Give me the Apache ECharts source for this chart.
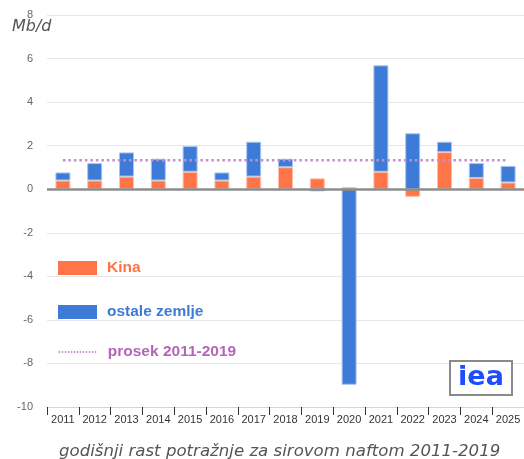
<!DOCTYPE html>
<html><head><meta charset="utf-8">
<script src="https://cdn.jsdelivr.net/npm/echarts@6/dist/echarts.min.js"></script>
<style>html,body{margin:0;padding:0;background:#fff}#c{width:524px;height:459px}</style>
</head><body><div id="c"></div>
<script>
var years = ['2011','2012','2013','2014','2015','2016','2017','2018','2019','2020','2021','2022','2023','2024','2025'];
var kina = [0.40, 0.40, 0.58, 0.40, 0.80, 0.40, 0.58, 1.01, 0.50, 0.10, 0.80, -0.35, 1.70, 0.52, 0.31];
var ostale = [0.37, 0.80, 1.11, 1.00, 1.18, 0.37, 1.60, 0.39, -0.10, -8.98, 4.89, 2.57, 0.48, 0.68, 0.76];
var prosekValue = 1.33;
var prosek = years.map(function(){ return prosekValue; });
var yTicks = {min: -10, max: 8, interval: 2};

var legendText = {fontFamily: 'Liberation Sans', fontWeight: 'bold', fontSize: 15.5, padding: [4,0,0,5]};
var chart = echarts.init(document.getElementById('c'), null, {renderer: 'canvas'});
chart.setOption({
  animation: false,
  grid: {left: 47, right: -2, top: 15, bottom: 52, containLabel: false},
  legend: [
    {
      orient: 'vertical', left: 53, top: 255, itemWidth: 39, itemHeight: 14, itemGap: 28,
      selectedMode: false, textStyle: legendText,
      data: [
        {name: 'Kina', icon: 'rect', itemStyle: {borderWidth: 0}, textStyle: {color: '#ff7347'}},
        {name: 'ostale zemlje', icon: 'rect', itemStyle: {borderWidth: 0}, textStyle: {color: '#3d7bd6'}}
      ]
    },
    {
      orient: 'vertical', left: 53, top: 339, itemWidth: 39, itemHeight: 14,
      selectedMode: false, textStyle: legendText,
      data: [
        {name: 'prosek 2011-2019', itemStyle: {opacity: 0}, lineStyle: {color: '#b46fc0', width: 1.5, type: [1.5, 1.5]}, textStyle: {color: '#b467b8'}}
      ]
    }
  ],
  xAxis: {
    type: 'category', data: years,
    axisLine: {onZero: false, lineStyle: {color: '#ccd6eb', width: 1}},
    axisTick: {show: true, alignWithLabel: false, length: 8, lineStyle: {color: '#333'}},
    axisLabel: {color: '#333', fontSize: 11, margin: 7, fontFamily: 'Liberation Sans', interval: 0},
    splitLine: {show: false}
  },
  yAxis: {
    type: 'value', min: yTicks.min, max: yTicks.max, interval: yTicks.interval,
    axisLine: {show: false}, axisTick: {show: false},
    axisLabel: {color: '#666', fontSize: 11, margin: 14, fontFamily: 'Liberation Sans'},
    splitLine: {lineStyle: {color: '#e6e6e6', width: 1}}
  },
  graphic: [
    {type: 'text', left: 12, top: 19, style: {text: 'Mb/d', font: 'italic 16px "DejaVu Sans"', fill: '#555'}},
    {type: 'text', left: 59, top: 443, style: {text: 'godišnji rast potražnje za sirovom naftom 2011-2019', font: 'italic 16.6px "DejaVu Sans"', fill: '#555'}},
    {type: 'rect', shape: {x: 450, y: 361, width: 62, height: 34}, style: {fill: '#fff', stroke: '#8a8a8a', lineWidth: 2}, z: 10},
    {type: 'text', x: 481, y: 378, style: {text: 'iea', font: 'bold 27px "DejaVu Sans"', fill: '#1d4dff', align: 'center', verticalAlign: 'middle'}, z: 11}
  ],
  series: [
    {
      name: 'zero', type: 'line', data: years.map(function(){return 0;}), symbol: 'none', silent: true,
      lineStyle: {color: '#8c8c8c', width: 0}, z: 1,
      markLine: {symbol: 'none', silent: true, label: {show: false}, lineStyle: {color: '#8c8c8c', width: 2.5, type: 'solid'}, data: [{yAxis: 0}]}
    },
    {
      name: 'Kina', type: 'bar', stack: 'a', data: kina, barWidth: 15, z: 3,
      itemStyle: {color: '#ff7548', borderColor: '#ffc1ab', borderWidth: 1}
    },
    {
      name: 'ostale zemlje', type: 'bar', stack: 'a', data: ostale, barWidth: 15, z: 3,
      itemStyle: {color: '#3e7bd6', borderColor: '#a9c5ef', borderWidth: 1}
    },
    {
      name: 'prosek 2011-2019', type: 'line', data: prosek, symbol: 'none', z: 4,
      lineStyle: {color: '#c18fd0', width: 2.5, type: [2.5, 3]},
      itemStyle: {color: '#c18fd0'}
    }
  ]
});
</script></body></html>
